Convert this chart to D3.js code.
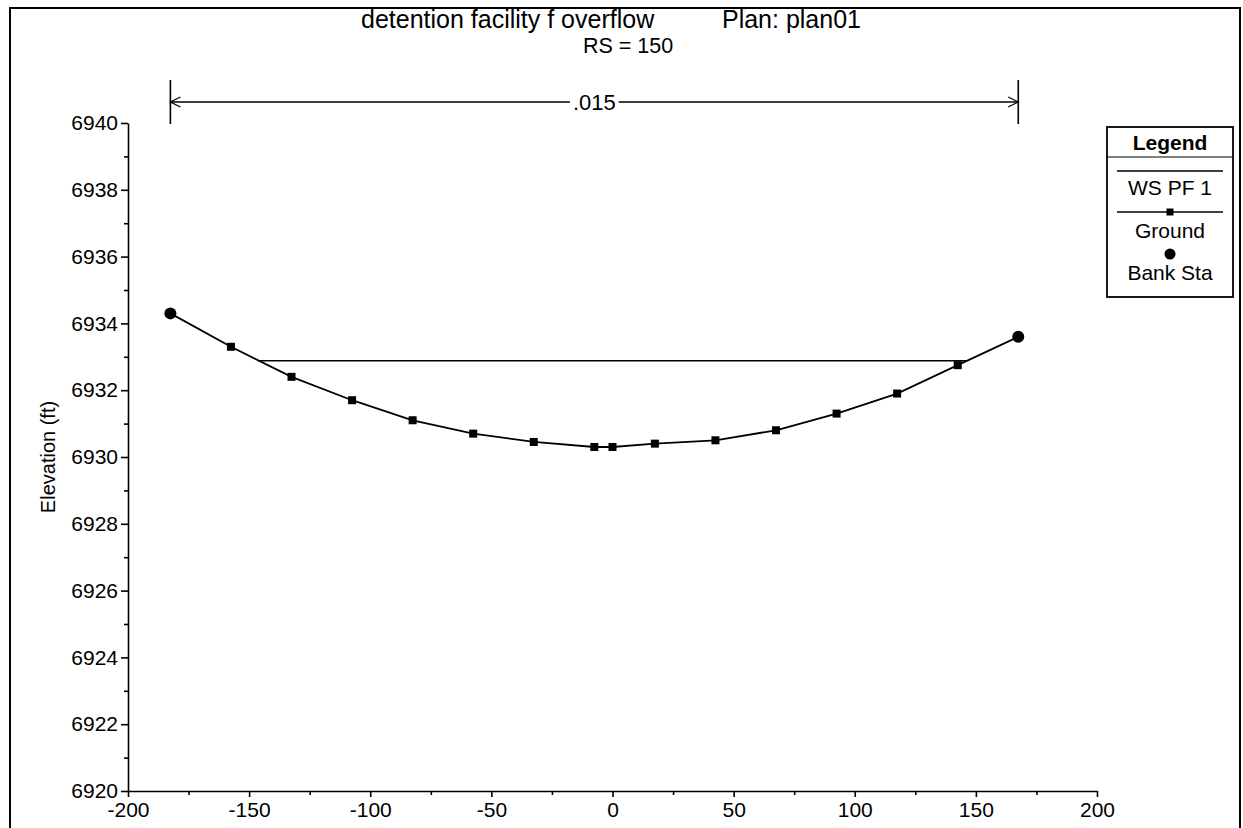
<!DOCTYPE html>
<html>
<head>
<meta charset="utf-8">
<script src="https://cdn.jsdelivr.net/npm/d3@7"></script>
<style>
  html, body { margin: 0; padding: 0; background: #fff; }
  svg { display: block; }
  text { font-family: "Liberation Sans", Arial, sans-serif; fill: #000; }
</style>
</head>
<body>
<svg id="chart" width="1243" height="828"></svg>
<script>
// ---- data ----
const titleText = "detention facility f overflow";
const planText = "Plan: plan01";
const subtitleText = "RS = 150";
const yLabel = "Elevation (ft)";
const mannings = ".015";

const stations = [-182.5, -157.5, -132.5, -107.5, -82.5, -57.5, -32.5, -7.5, 0, 17.5, 42.5, 67.5, 92.5, 117.5, 142.5, 167.5];
const elevations = [6934.3, 6933.3, 6932.4, 6931.7, 6931.1, 6930.7, 6930.45, 6930.3, 6930.3, 6930.4, 6930.5, 6930.8, 6931.3, 6931.9, 6932.75, 6933.6];
const bankStations = [-182.5, 167.5];
const bankElevations = [6934.3, 6933.6];
const wsStations = [-146.3, 146.2];
const wsElevation = 6932.88;

const xTicks = [-200, -150, -100, -50, 0, 50, 100, 150, 200];
const xMinorTicks = [-175, -125, -75, -25, 25, 75, 125, 175];
const yTicks = [6920, 6922, 6924, 6926, 6928, 6930, 6932, 6934, 6936, 6938, 6940];
const yMinorTicks = [6921, 6923, 6925, 6927, 6929, 6931, 6933, 6935, 6937, 6939];
const legendItems = ["WS PF 1", "Ground", "Bank Sta"];

// ---- drawing ----
const svg = d3.select("#chart");
const x = d3.scaleLinear().domain([-200, 200]).range([128, 1097]);
const y = d3.scaleLinear().domain([6920, 6940]).range([791, 123]);

// outer frame
svg.append("rect").attr("x", 10).attr("y", 8).attr("width", 1230).attr("height", 840)
  .attr("fill", "none").attr("stroke", "#000").attr("stroke-width", 2);

// titles
svg.append("text").attr("x", 361).attr("y", 28).attr("font-size", 25).text(titleText);
svg.append("text").attr("x", 861).attr("y", 28).attr("font-size", 25).attr("text-anchor", "end").text(planText);
svg.append("text").attr("x", 628).attr("y", 53).attr("font-size", 21.5).attr("text-anchor", "middle").text(subtitleText);

// axes
const axisFont = 21;
svg.append("g").attr("transform", `translate(${x(-200)},0)`)
  .call(d3.axisLeft(y).tickValues(yTicks).tickFormat(d3.format("d")).tickSize(7).tickSizeOuter(0).tickPadding(3));
svg.append("g").attr("transform", `translate(${x(-200)},0)`)
  .call(d3.axisLeft(y).tickValues(yMinorTicks).tickFormat("").tickSize(4).tickSizeOuter(0))
  .select(".domain").remove();
const gx = svg.append("g").attr("transform", `translate(0,${y(6920)})`)
  .call(d3.axisBottom(x).tickValues(xTicks).tickFormat(d3.format("d")).tickSize(6).tickSizeOuter(0).tickPadding(5));
svg.append("g").attr("transform", `translate(0,${y(6920)})`)
  .call(d3.axisBottom(x).tickValues(xMinorTicks).tickFormat("").tickSize(4).tickSizeOuter(0))
  .select(".domain").remove();
svg.selectAll(".tick text").attr("font-size", axisFont).attr("font-family", "Liberation Sans, Arial, sans-serif");
gx.selectAll(".tick text").text(d => d < 0 ? "-" + Math.abs(d) : d);
svg.selectAll(".domain, .tick line").attr("stroke", "#000").attr("stroke-width", 1.6);

// y label
svg.append("text").attr("transform", `translate(55,${(y(6920) + y(6940)) / 2}) rotate(-90)`)
  .attr("text-anchor", "middle").attr("font-size", 20).text(yLabel);

// n-value annotation
const annY = 102;
const xl = x(bankStations[0]), xr = x(bankStations[1]);
svg.selectAll("line.bankmark").data(bankStations).enter().append("line")
  .attr("x1", d => x(d)).attr("x2", d => x(d)).attr("y1", 80).attr("y2", 124)
  .attr("stroke", "#000").attr("stroke-width", 1.6);
const mid = (xl + xr) / 2;
const nText = svg.append("text").attr("x", mid).attr("y", annY + 8)
  .attr("text-anchor", "middle").attr("font-size", 22).text(mannings);
const tw = nText.node().getComputedTextLength();
svg.append("line").attr("x1", xl).attr("x2", mid - tw / 2 - 3).attr("y1", annY).attr("y2", annY).attr("stroke", "#000").attr("stroke-width", 1.3);
svg.append("line").attr("x1", mid + tw / 2 + 3).attr("x2", xr).attr("y1", annY).attr("y2", annY).attr("stroke", "#000").attr("stroke-width", 1.3);
svg.append("path").attr("d", `M${xl + 10},${annY - 5}L${xl},${annY}L${xl + 10},${annY + 5}`).attr("fill", "none").attr("stroke", "#000").attr("stroke-width", 1.3);
svg.append("path").attr("d", `M${xr - 10},${annY - 5}L${xr},${annY}L${xr - 10},${annY + 5}`).attr("fill", "none").attr("stroke", "#000").attr("stroke-width", 1.3);

// water surface
svg.append("line").attr("x1", x(wsStations[0])).attr("x2", x(wsStations[1]))
  .attr("y1", y(wsElevation)).attr("y2", y(wsElevation)).attr("stroke", "#000").attr("stroke-width", 1.6);

// ground line
const ground = stations.map((s, i) => [s, elevations[i]]);
svg.append("path").datum(ground)
  .attr("d", d3.line().x(d => x(d[0])).y(d => y(d[1])))
  .attr("fill", "none").attr("stroke", "#000").attr("stroke-width", 1.8);
const isBank = s => bankStations.includes(s);
svg.selectAll("rect.gpt").data(ground.filter(d => !isBank(d[0]))).enter().append("rect")
  .attr("x", d => x(d[0]) - 4).attr("y", d => y(d[1]) - 4).attr("width", 8).attr("height", 8).attr("fill", "#000");
svg.selectAll("circle.bank").data(bankStations.map((s, i) => [s, bankElevations[i]])).enter().append("circle")
  .attr("cx", d => x(d[0])).attr("cy", d => y(d[1])).attr("r", 6).attr("fill", "#000");

// legend
const lg = svg.append("g");
const lx0 = 1107, lx1 = 1233, lcx = (lx0 + lx1) / 2;
lg.append("rect").attr("x", lx0).attr("y", 127).attr("width", lx1 - lx0).attr("height", 170)
  .attr("fill", "#fff").attr("stroke", "#000").attr("stroke-width", 1.8);
lg.append("text").attr("x", lcx).attr("y", 150).attr("text-anchor", "middle").attr("font-size", 21).attr("font-weight", "bold").text("Legend");
lg.append("line").attr("x1", lx0).attr("x2", lx1).attr("y1", 157).attr("y2", 157).attr("stroke", "#000").attr("stroke-width", 1);
lg.append("line").attr("x1", lx0 + 10).attr("x2", lx1 - 10).attr("y1", 171).attr("y2", 171).attr("stroke", "#000").attr("stroke-width", 1.6);
lg.append("text").attr("x", lcx).attr("y", 195).attr("text-anchor", "middle").attr("font-size", 21).text(legendItems[0]);
lg.append("line").attr("x1", lx0 + 10).attr("x2", lx1 - 10).attr("y1", 212).attr("y2", 212).attr("stroke", "#000").attr("stroke-width", 1.6);
lg.append("rect").attr("x", lcx - 3.5).attr("y", 208.5).attr("width", 7).attr("height", 7).attr("fill", "#000");
lg.append("text").attr("x", lcx).attr("y", 238).attr("text-anchor", "middle").attr("font-size", 21).text(legendItems[1]);
lg.append("circle").attr("cx", lcx).attr("cy", 254).attr("r", 5.5).attr("fill", "#000");
lg.append("text").attr("x", lcx).attr("y", 280).attr("text-anchor", "middle").attr("font-size", 21).text(legendItems[2]);
</script>
</body>
</html>
